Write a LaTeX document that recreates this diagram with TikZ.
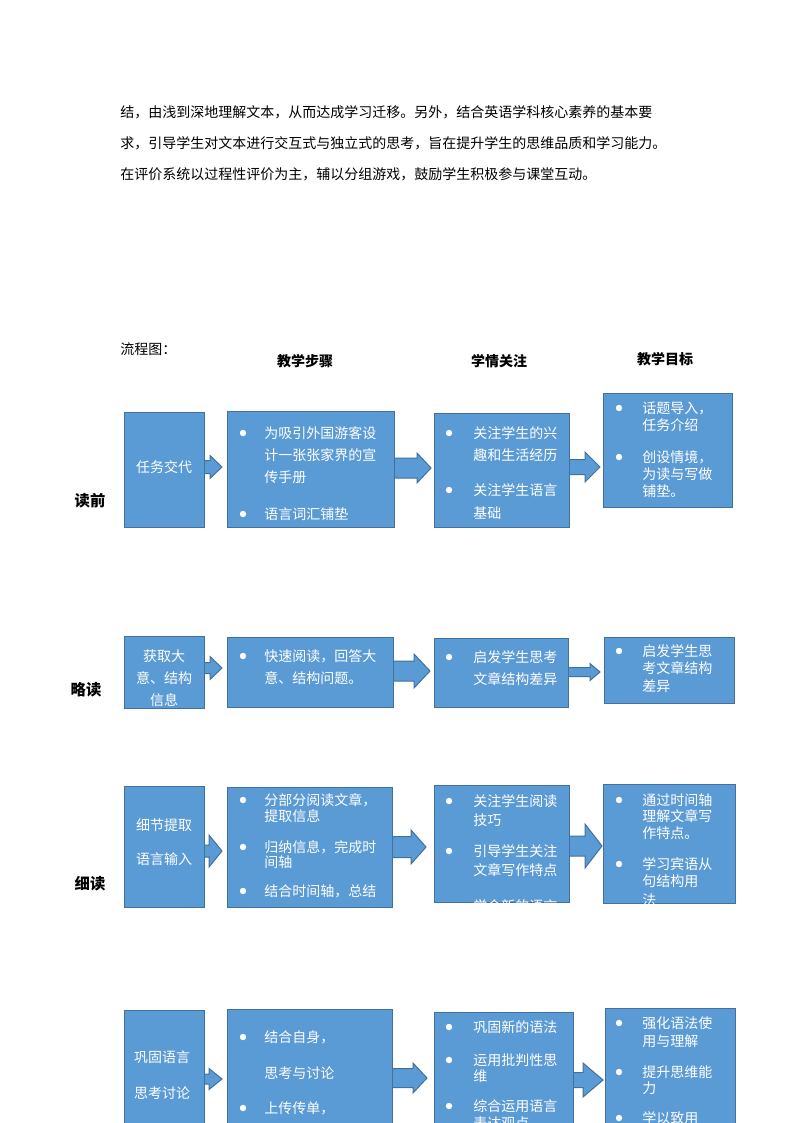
\documentclass[tikz,border=0pt]{standalone}
\usepackage{fontspec}
\setmainfont{Noto Sans CJK SC}
\definecolor{bfill}{HTML}{5B9BD5}
\definecolor{bline}{HTML}{41719C}
\tikzset{
  box/.style={draw=bline,fill=bfill,line width=0.75pt,inner sep=0pt,anchor=north west},
  arr/.style={draw=bline,fill=bfill,line width=0.75pt,line join=miter},
  txt/.style={inner sep=0pt,anchor=west,font=\fontsize{10.5pt}{12pt}\selectfont},
  wtxt/.style={txt,text=white},
  ctxt/.style={wtxt,anchor=center},
  head/.style={inner sep=0pt,font=\fontsize{10.5pt}{12pt}\selectfont\bfseries},
  rowlab/.style={inner sep=0pt,font=\fontsize{11.5pt}{13pt}\selectfont\bfseries},
}
\newcommand\mkbox[5]{\node[box,minimum width={(#4-#2)*0.75pt},minimum height={(#5-#3)*0.75pt}] (#1) at (#2,#3) {};}
\newcommand\bul[2]{\fill[white] (#1,#2) circle (2.4pt);}
\newcommand\wl[3]{\node[wtxt] at (#1,#2) {#3};}
\newcommand\barrow[6]{\filldraw[arr] (#1,#4-#5) -- (#2,#4-#5) -- (#2,#4-#6) -- (#3,#4) -- (#2,#4+#6) -- (#2,#4+#5) -- (#1,#4+#5) -- cycle;}
\begin{document}
\begin{tikzpicture}[x=0.75pt,y=-0.75pt]
\clip (0,0) rectangle (794,1123);
\fill[white] (0,0) rectangle (794,1123);

% paragraph
\node[txt] (p1) at (120,112) {结，由浅到深地理解文本，从而达成学习迁移。另外，结合英语学科核心素养的基本要};
\node[txt] (p2) at (120,143) {求，引导学生对文本进行交互式与独立式的思考，旨在提升学生的思维品质和学习能力。};
\node[txt] (p3) at (120,174) {在评价系统以过程性评价为主，辅以分组游戏，鼓励学生积极参与课堂互动。};

\node[txt] (lct) at (120,349) {流程图：};
\node[head] (h1) at (305,361) {教学步骤};
\node[head] (h2) at (499,361) {学情关注};
\node[head] (h3) at (665,359) {教学目标};

\node[rowlab] (r1) at (90,501) {读前};
\node[rowlab] (r2) at (86,690) {略读};
\node[rowlab] (r3) at (90,884) {细读};

% ---------- row 1 ----------
\barrow{204}{210}{222}{467}{6.5}{11.5}
\barrow{394}{417}{431}{468}{10}{15}
\barrow{569}{585}{600}{467}{7.5}{15}
\mkbox{a1}{124}{412}{204}{527}
\mkbox{b1}{227}{411}{394}{527}
\mkbox{c1}{434}{413}{569}{527}
\mkbox{d1}{603}{393}{732}{507}
\begin{scope}\clip (a1.south west) rectangle (a1.north east);
\node[ctxt] at (164,467) {任务交代};
\end{scope}
\begin{scope}\clip (b1.south west) rectangle (b1.north east);
\bul{243}{433}\wl{264}{433}{为吸引外国游客设}
\wl{264}{455}{计一张张家界的宣}
\wl{264}{477}{传手册}
\bul{243}{514}\wl{264}{514}{语言词汇铺垫}
\end{scope}
\begin{scope}\clip (c1.south west) rectangle (c1.north east);
\bul{449}{433}\wl{473}{433}{关注学生的兴}
\wl{473}{455}{趣和生活经历}
\bul{449}{490}\wl{473}{490}{关注学生语言}
\wl{473}{513}{基础}
\end{scope}
\begin{scope}\clip (d1.south west) rectangle (d1.north east);
\bul{619}{408}\wl{642}{408}{话题导入，}
\wl{642}{425}{任务介绍}
\bul{619}{457}\wl{642}{457}{创设情境，}
\wl{642}{474}{为读与写做}
\wl{642}{491}{铺垫。}
\end{scope}

% ---------- row 2 ----------
\barrow{204}{210}{222}{668}{5.5}{11.5}
\barrow{393}{414}{430}{671}{10}{17}
\barrow{568}{590}{600}{672}{4.5}{8.5}
\mkbox{a2}{124}{636}{204}{708}
\mkbox{b2}{227}{637}{393}{707}
\mkbox{c2}{434}{638}{568}{707}
\mkbox{d2}{604}{637}{734}{703}
\begin{scope}\clip (a2.south west) rectangle (a2.north east);
\node[ctxt] at (164,656) {获取大};
\node[ctxt] at (164,678) {意、结构};
\node[ctxt] at (164,700) {信息};
\end{scope}
\begin{scope}\clip (b2.south west) rectangle (b2.north east);
\bul{243}{656}\wl{264}{656}{快速阅读，回答大}
\wl{264}{678}{意、结构问题。}
\end{scope}
\begin{scope}\clip (c2.south west) rectangle (c2.north east);
\bul{449}{657}\wl{473}{657}{启发学生思考}
\wl{473}{679}{文章结构差异}
\end{scope}
\begin{scope}\clip (d2.south west) rectangle (d2.north east);
\bul{619}{651}\wl{642}{651}{启发学生思}
\wl{642}{668}{考文章结构}
\wl{642}{686}{差异}
\end{scope}

% ---------- row 3 ----------
\barrow{204}{209}{222}{851}{6}{16}
\barrow{392}{411}{426}{847}{10.5}{17}
\barrow{569}{585}{602}{846}{10}{22}
\mkbox{a3}{124}{786}{204}{907}
\mkbox{b3}{227}{787}{392}{907}
\mkbox{c3}{434}{785}{569}{902}
\mkbox{d3}{603}{784}{735}{903}
\begin{scope}\clip (a3.south west) rectangle (a3.north east);
\node[ctxt] at (164,825) {细节提取};
\node[ctxt] at (164,859) {语言输入};
\end{scope}
\begin{scope}\clip (b3.south west) rectangle (b3.north east);
\bul{243}{800}\wl{264}{800}{分部分阅读文章，}
\wl{264}{816}{提取信息}
\bul{243}{847}\wl{264}{847}{归纳信息，完成时}
\wl{264}{862}{间轴}
\bul{243}{891}\wl{264}{891}{结合时间轴，总结}
\end{scope}
\begin{scope}\clip (c3.south west) rectangle (c3.north east);
\bul{449}{801}\wl{473}{801}{关注学生阅读}
\wl{473}{820}{技巧}
\bul{449}{851}\wl{473}{851}{引导学生关注}
\wl{473}{870}{文章写作特点}
\bul{449}{906}\wl{473}{906}{学会新的语言}
\end{scope}
\begin{scope}\clip (d3.south west) rectangle (d3.north east);
\bul{619}{800}\wl{642}{800}{通过时间轴}
\wl{642}{816}{理解文章写}
\wl{642}{833}{作特点。}
\bul{619}{864}\wl{642}{864}{学习宾语从}
\wl{642}{881}{句结构用}
\wl{642}{900}{法}
\end{scope}

% ---------- row 4 ----------
\barrow{204}{209}{222}{1079}{5}{10.5}
\barrow{392}{413}{427}{1078}{9.5}{15}
\barrow{573}{583}{603}{1080}{7.5}{17}
\mkbox{a4}{124}{1010}{204}{1140}
\mkbox{b4}{227}{1009}{392}{1140}
\mkbox{c4}{434}{1012}{573}{1140}
\mkbox{d4}{605}{1008}{735}{1140}
\begin{scope}\clip (a4.south west) rectangle (a4.north east);
\node[ctxt] at (162,1057) {巩固语言};
\node[ctxt] at (162,1093) {思考讨论};
\end{scope}
\begin{scope}\clip (b4.south west) rectangle (b4.north east);
\bul{243}{1037}\wl{264}{1037}{结合自身，}
\wl{264}{1073}{思考与讨论}
\bul{243}{1108}\wl{264}{1108}{上传传单，}
\end{scope}
\begin{scope}\clip (c4.south west) rectangle (c4.north east);
\bul{449}{1027}\wl{473}{1027}{巩固新的语法}
\bul{449}{1060}\wl{473}{1060}{运用批判性思}
\wl{473}{1076}{维}
\bul{449}{1106}\wl{473}{1106}{综合运用语言}
\wl{473}{1123}{表达观点}
\end{scope}
\begin{scope}\clip (d4.south west) rectangle (d4.north east);
\bul{619}{1023}\wl{642}{1023}{强化语法使}
\wl{642}{1041}{用与理解}
\bul{619}{1072}\wl{642}{1072}{提升思维能}
\wl{642}{1088}{力}
\bul{619}{1118}\wl{642}{1118}{学以致用}
\end{scope}
\end{tikzpicture}
\end{document}
